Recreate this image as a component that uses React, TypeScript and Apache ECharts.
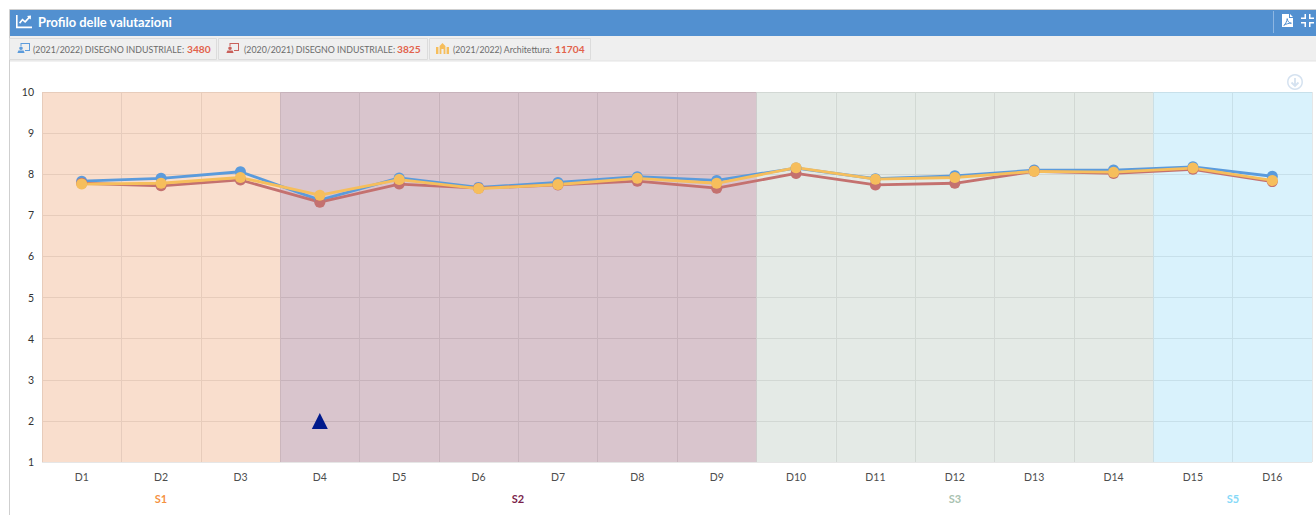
import React, { useEffect, useRef } from "react";
import * as echarts from "echarts";

const categories = ["D1","D2","D3","D4","D5","D6","D7","D8","D9","D10","D11","D12","D13","D14","D15","D16"];
const serie2122Disegno = [7.83,7.90,8.06,7.37,7.91,7.68,7.80,7.94,7.85,8.15,7.89,7.96,8.10,8.10,8.18,7.95];
const serie2021Disegno = [7.78,7.72,7.86,7.32,7.76,7.66,7.74,7.83,7.66,8.02,7.74,7.78,8.07,8.02,8.12,7.82];
const serie2122Architettura = [7.76,7.78,7.92,7.49,7.87,7.65,7.75,7.90,7.78,8.16,7.88,7.92,8.07,8.05,8.15,7.85];
const sections = ["S1","S1","S1","S2","S2","S2","S2","S2","S2","S3","S3","S3","S3","S3","S5","S5"];
const sectionTop = [10,10,10,10,10,10,10,10,10,10,10,10,10,10,10,10];
const markerValues = [null,null,null,2,null,null,null,null,null,null,null,null,null,null,null,null];
const yTicks = [1,2,3,4,5,6,7,8,9,10];
const tagLabels = ["(2021/2022) DISEGNO INDUSTRIALE:","(2020/2021) DISEGNO INDUSTRIALE:","(2021/2022) Architettura:"];
const tagCounts = ["3480","3825","11704"];
const title = "Profilo delle valutazioni";

const FONT = "Lato, 'Open Sans', sans-serif";
const BLUE = "#5B9BDC";
const RED = "#C4716F";
const YELLOW = "#F6BE5C";
const sectionFill: Record<string,string> = {
  S1: "rgba(235,145,88,0.3)",
  S2: "rgba(128,62,91,0.3)",
  S3: "rgba(165,185,172,0.3)",
  S5: "rgba(128,212,245,0.3)",
};
const sectionText: Record<string,string> = { S1:"#F59242", S2:"#7B1F4B", S3:"#A9C2B0", S5:"#86D9F8" };
const sectionLabelX: Record<string,number> = { S1:161, S2:518, S3:955, S5:1233 };

echarts.graphic.registerShape("iconChart", echarts.graphic.extendPath(
  "M0 0L1.6 0L1.6 11.6L16 11.6L16 13.2L0 13.2Z M3 7.6L6.4 3.6L9 5.8L12.2 2.2L11 1L15 0.6L14.8 4.6L13.4 3.4L9.2 8L6.6 5.8L4.2 8.8Z", {}) as any);
echarts.graphic.registerShape("iconPdf", echarts.graphic.extendPath(
  "M0 0L7 0L7 4L11 4L11 13L0 13Z M8 0L11 3L8 3Z", {}) as any);
echarts.graphic.registerShape("iconPdfMark", echarts.graphic.extendPath(
  "M1.8 11.4C3.6 10 5 7 5.2 4.6C5.6 7.4 7 9 9.4 9.2C7 9.2 4 9.8 1.8 11.4Z", {}) as any);
echarts.graphic.registerShape("iconCompress", echarts.graphic.extendPath(
  "M3.5 0L5 0L5 5L0 5L0 3.5L3.5 3.5Z M8 0L9.5 0L9.5 3.5L13 3.5L13 5L8 5Z M0 8L5 8L5 13L3.5 13L3.5 9.5L0 9.5Z M8 8L13 8L13 9.5L9.5 9.5L9.5 13L8 13Z", {}) as any);
echarts.graphic.registerShape("iconPerson", echarts.graphic.extendPath(
  "M3.5 0L13 0L13 8L8 8L8 7L12 7L12 1L4.5 1L4.5 3L3.5 3Z M5.8 5.2A1.8 1.8 0 1 1 2.2 5.2A1.8 1.8 0 1 1 5.8 5.2Z M0.4 10L1.4 7.6L6.6 7.6L7.6 10Z", {}) as any);
echarts.graphic.registerShape("iconColumns", echarts.graphic.extendPath(
  "M0 4L2.4 4L2.4 11L0 11Z M10.6 4L13 4L13 11L10.6 11Z M3.6 3L6.5 0L9.4 3L9.4 11L7.6 11L7.6 6L5.4 6L5.4 11L3.6 11Z", {}) as any);

function buildGraphic() {
  const els: any[] = [];
  els.push({ type:"rect", silent:true, z:0, shape:{x:9.5,y:9.5,width:1307,height:506}, style:{fill:"none",stroke:"#CFCFCF",lineWidth:1} });
  els.push({ type:"rect", silent:true, z:1, shape:{x:10,y:10,width:1306,height:26}, style:{fill:"#5290D0"} });
  els.push({ type:"rect", silent:true, z:1, shape:{x:10,y:36,width:1306,height:25}, style:{fill:"#EFEFEF"} });
  els.push({ type:"rect", silent:true, z:1, shape:{x:10,y:60.5,width:1306,height:1}, style:{fill:"#E4E4E4"} });
  els.push({ type:"iconChart", silent:true, z:2, x:16, y:15, style:{fill:"#fff"} });
  els.push({ type:"text", silent:true, z:2, x:38, y:22, style:{ text:title, fill:"#fff", font:`bold 12.9px ${FONT}`, verticalAlign:"middle" } });
  els.push({ type:"rect", silent:true, z:2, shape:{x:1273,y:11,width:1,height:22}, style:{fill:"#8DB6E2"} });
  els.push({ type:"iconPdf", silent:true, z:2, x:1282, y:14, style:{fill:"#fff"} });
  els.push({ type:"iconPdfMark", silent:true, z:3, x:1282, y:14, style:{fill:"none",stroke:"#5290D0",lineWidth:1} });
  els.push({ type:"iconCompress", silent:true, z:2, x:1301, y:14, style:{fill:"#fff"} });

  const tagBoxes = [[10,207],[219,209],[430,161]];
  const tagTextX = [33,244,453];
  const tagTextSize = [8.8,8.8,8.7];
  const tagCountX = [187,397,555];
  const tagIcons = ["iconPerson","iconPerson","iconColumns"];
  const tagIconColor = [BLUE,"#C9605A","#F6BE5C"];
  const tagIconX = [17,226,436];
  tagLabels.forEach((t,i) => {
    els.push({ type:"rect", silent:true, z:2, shape:{x:tagBoxes[i][0]-0.5,y:38.5,width:tagBoxes[i][1],height:21}, style:{fill:"#EFEFEF",stroke:"#DCDCDC",lineWidth:1} });
    els.push({ type:tagIcons[i], silent:true, z:3, x:tagIconX[i], y:43, style:{fill:tagIconColor[i]} });
    els.push({ type:"text", silent:true, z:3, x:tagTextX[i], y:49, style:{ text:t, fill:"#6B6B6B", font:`${tagTextSize[i]}px ${FONT}`, verticalAlign:"middle" } });
    els.push({ type:"text", silent:true, z:3, x:tagCountX[i], y:48.5, style:{ text:tagCounts[i], fill:"#E2624B", font:`bold 10.2px ${FONT}`, verticalAlign:"middle" } });
  });

  els.push({ type:"circle", silent:true, z:2, shape:{cx:1295,cy:82,r:7.2}, style:{fill:"#fff",stroke:"#D5E2F0",lineWidth:1.5} });
  els.push({ type:"polyline", silent:true, z:3, shape:{points:[[1295,78],[1295,85.5]]}, style:{stroke:"#D5E2F0",lineWidth:1.8,fill:"none"} });
  els.push({ type:"polyline", silent:true, z:3, shape:{points:[[1291.5,82.5],[1295,86],[1298.5,82.5]]}, style:{stroke:"#D5E2F0",lineWidth:1.8,fill:"none"} });

  Object.keys(sectionLabelX).forEach((s) => {
    els.push({ type:"text", silent:true, z:3, x:sectionLabelX[s], y:498, style:{ text:s, fill:sectionText[s], font:`bold 11px ${FONT}`, align:"center", verticalAlign:"middle" } });
  });
  return els;
}

export default function App() {
  const ref = useRef<HTMLDivElement>(null);
  useEffect(() => {
    const chart = echarts.init(ref.current!, undefined, { renderer: "svg" });
    const lineSeries = (name: string, data: number[], color: string) => ({
      name, type:"line", data, symbol:"circle", symbolSize:11, showSymbol:true,
      lineStyle:{color,width:2.8}, itemStyle:{color}, z:5,
    });
    chart.setOption({
      animation:false,
      backgroundColor:"#fff",
      graphic:{ elements: buildGraphic() },
      grid:{ left:42, top:92, width:1270, height:370, containLabel:false },
      xAxis:{
        type:"category", data:categories, boundaryGap:true,
        axisLine:{show:false}, axisTick:{show:false},
        axisLabel:{ color:"#4D4D4D", fontSize:10.5, fontFamily:FONT, margin:9 },
        splitLine:{ show:true, interval:0, lineStyle:{color:"#E6E6E6",width:1} },
      },
      yAxis:{
        type:"value", min:yTicks[0], max:yTicks[yTicks.length-1], interval:1,
        axisLine:{show:false}, axisTick:{show:false},
        axisLabel:{ color:"#333", fontSize:10.5, fontFamily:FONT, margin:8 },
        splitLine:{ show:true, lineStyle:{color:"#E6E6E6",width:1} },
      },
      series:[
        { name:"Sezioni", type:"bar", barWidth:"100%", silent:true, z:1,
          data: sectionTop.map((v,i)=>({ value:v, itemStyle:{ color:sectionFill[sections[i]] } })) },
        lineSeries("(2021/2022) DISEGNO INDUSTRIALE", serie2122Disegno, BLUE),
        lineSeries("(2020/2021) DISEGNO INDUSTRIALE", serie2021Disegno, RED),
        lineSeries("(2021/2022) Architettura", serie2122Architettura, YELLOW),
        { name:"Riferimento", type:"scatter", data:markerValues, symbol:"triangle", symbolSize:[16,16], itemStyle:{color:"#001A8C",opacity:1}, z:6 },
      ],
    });
    return () => chart.dispose();
  }, []);
  return <div ref={ref} style={{ position:"absolute", left:0, top:0, width:1316, height:515 }} />;
}
